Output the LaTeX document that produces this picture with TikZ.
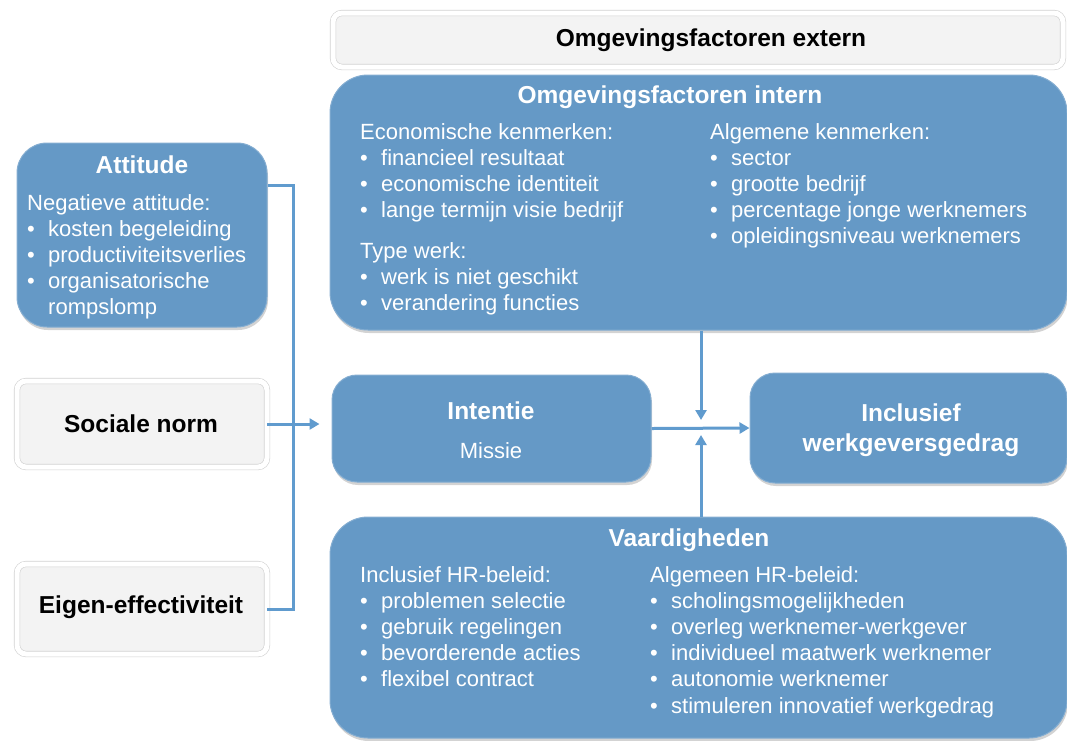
\documentclass[tikz,border=0pt]{standalone}
\usepackage{fontspec}
\setmainfont{Liberation Sans}
\usetikzlibrary{arrows.meta,shadows}
\definecolor{boxblue}{RGB}{101,153,198}
\definecolor{lineblue}{RGB}{96,155,206}
\definecolor{boxgrey}{RGB}{243,243,243}
\newcommand{\itembul}[1]{\makebox[21pt][l]{\textbullet}#1}
\tikzset{
    bluebox/.style={rectangle, fill=boxblue, draw=boxblue!80!white,
    	line width=1pt, drop shadow={opacity=.35, shadow xshift=1pt, shadow yshift=-3pt}},
    greybox/.style={rectangle, rounded corners=9pt, fill=boxgrey, draw=black!18,
    	line width=.6pt, double=white, double distance=5pt,
    	drop shadow={opacity=.15, shadow xshift=0pt, shadow yshift=-2pt}}
}
\tikzset{
    titletext/.style={font=\fontsize{24.5}{30}\selectfont\bfseries, text=white, inner sep=0pt, align=center},
    bodytext/.style={font=\fontsize{22}{26.2}\selectfont, text=white, inner sep=0pt, align=left, anchor=north west}
}
\tikzset{
	conn/.style={draw=lineblue, line width=3pt},
	arrow/.style={conn, -{Triangle[length=10pt,width=11pt]}}
}

\begin{document}
\begin{tikzpicture}[x=1pt, y=-1pt]
	\useasboundingbox (0,0) rectangle (1067,740);
	% boxes
	\node (extern) [greybox, minimum width=730pt, minimum height=54pt] at (698, 40) {};
	\node (intern) [bluebox, rounded corners=38pt, minimum width=737pt, minimum height=255pt] at (698.5, 202.5) {};
	\node (attitude) [bluebox, rounded corners=30pt, minimum width=250pt, minimum height=184pt] at (142, 235) {};
	\node (sociale) [greybox, minimum width=250pt, minimum height=86pt] at (142, 424) {};
	\node (eigen) [greybox, minimum width=250pt, minimum height=90pt] at (142, 609) {};
	\node (intentie) [bluebox, rounded corners=25pt, minimum width=319pt, minimum height=107pt] at (491.5, 428.5) {};
	\node (inclusief) [bluebox, rounded corners=25pt, minimum width=317pt, minimum height=110pt] at (908.5, 428) {};
	\node (vaard) [bluebox, rounded corners=38pt, minimum width=737pt, minimum height=221pt] at (698.5, 627.5) {};

	% titles
	\node (externtitle) [titletext, text=black] at (711, 40) {Omgevingsfactoren extern};
	\node (interntitle) [titletext] at (670, 97) {Omgevingsfactoren intern};
	\node (attitudetitle) [titletext] at (142, 165) {Attitude};
	\node (socialetitle) [titletext, text=black] at (141, 424) {Sociale norm};
	\node (eigentitle) [titletext, text=black] at (141, 607) {Eigen-effectiviteit};
	\node (intentietitle) [titletext] at (491, 411) {Intentie};
	\node (missie) [bodytext, anchor=center] at (491, 451) {Missie};
	\node (inclusieftitle) [titletext] at (911, 430) {Inclusief\\werkgeversgedrag};
	\node (vaardtitle) [titletext] at (689, 540) {Vaardigheden};

	% lists
	\node (attitudelist) [bodytext] at (27, 194) {Negatieve attitude:\\
		\itembul{kosten begeleiding}\\ \itembul{productiviteitsverlies}\\
		\itembul{organisatorische}\\ \hspace*{21pt}rompslomp};
	\node (economisch) [bodytext] at (360, 123) {Economische kenmerken:\\
		\itembul{financieel resultaat}\\ \itembul{economische identiteit}\\
		\itembul{lange termijn visie bedrijf}};
	\node (typewerk) [bodytext] at (360, 242) {Type werk:\\
		\itembul{werk is niet geschikt}\\ \itembul{verandering functies}};
	\node (algemeen) [bodytext] at (710, 123) {Algemene kenmerken:\\
		\itembul{sector}\\ \itembul{grootte bedrijf}\\
		\itembul{percentage jonge werknemers}\\ \itembul{opleidingsniveau werknemers}};
	\node (inclusiefhr) [bodytext] at (360, 566) {Inclusief HR-beleid:\\
		\itembul{problemen selectie}\\ \itembul{gebruik regelingen}\\
		\itembul{bevorderende acties}\\ \itembul{flexibel contract}};
	\node (algemeenhr) [bodytext] at (650, 566) {Algemeen HR-beleid:\\
		\itembul{scholingsmogelijkheden}\\ \itembul{overleg werknemer-werkgever}\\
		\itembul{individueel maatwerk werknemer}\\ \itembul{autonomie werknemer}\\
		\itembul{stimuleren innovatief werkgedrag}};

	% connectors
	\coordinate (junction) at (293, 426);
	\coordinate (cross) at (701, 428);
	\draw [conn] ([yshift=50pt]attitude.east) -| (junction) |- (eigen.east);
	\draw [arrow, shorten >=12pt] (sociale.east) -- (sociale.east -| intentie.west);
	\draw [arrow] (intentie.east) -- (inclusief.west);
	\draw [arrow] (intern.south -| cross) -- ([yshift=8pt]cross);
	\draw [arrow] (vaard.north -| cross) -- ([yshift=-7pt]cross);
\end{tikzpicture}
\end{document}
